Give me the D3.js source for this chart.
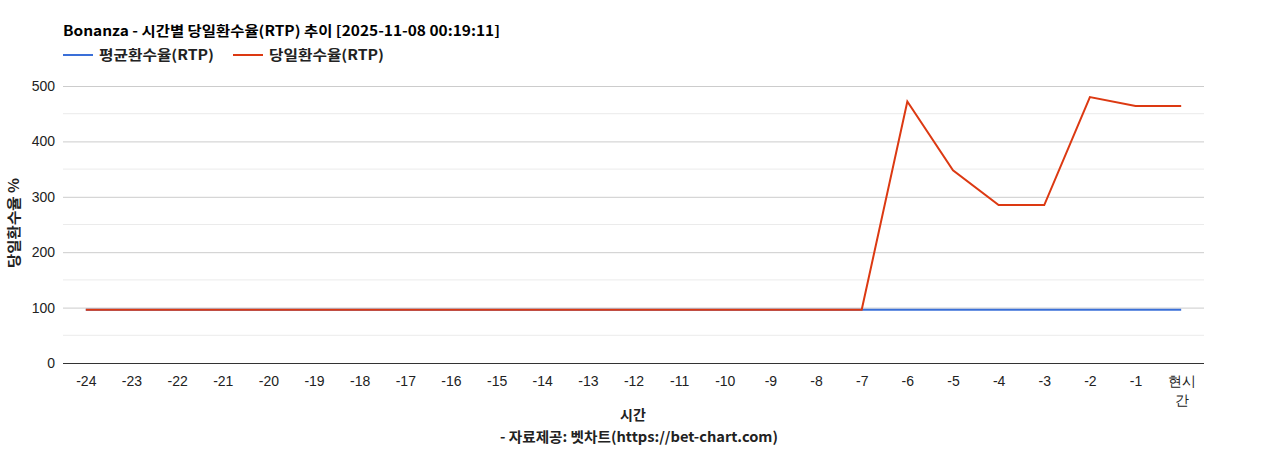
<!DOCTYPE html>
<html>
<head>
<meta charset="utf-8">
<script src="https://cdn.jsdelivr.net/npm/d3@7"></script>
<style>
  body { margin: 0; background: #fff; }
  svg { font-family: "Liberation Sans", Arial, "Noto Sans CJK KR", sans-serif; }
  .bold { font-family: "Noto Sans CJK KR", "Liberation Sans", sans-serif; font-weight: bold; }
</style>
</head>
<body>
<svg id="chart" width="1268" height="450"></svg>
<script>
// 시간 라벨 (-24 ~ 현시간)
const hours = ["-24","-23","-22","-21","-20","-19","-18","-17","-16","-15","-14","-13","-12",
  "-11","-10","-9","-8","-7","-6","-5","-4","-3","-2","-1","현시간"];

// 평균환수율 / 당일환수율 (%)
const avgRtp = [96,96,96,96,96,96,96,96,96,96,96,96,96,96,96,96,96,96,96,96,96,96,96,96,96];
const dayRtp = [96,96,96,96,96,96,96,96,96,96,96,96,96,96,96,96,96,96,472,348,285,285,480,464,464];

const yTicks = [0, 100, 200, 300, 400, 500];
const yMinor = [50, 150, 250, 350, 450];

const series = [
  { name: "평균환수율(RTP)", values: avgRtp, color: "#3a6fd8" },
  { name: "당일환수율(RTP)", values: dayRtp, color: "#dc3912" }
];

const svg = d3.select("#chart");
const margin = { top: 86, right: 64, bottom: 87, left: 63 };
const width = 1268 - margin.left - margin.right;
const height = 450 - margin.top - margin.bottom;

const x = d3.scalePoint().domain(hours).range([0, width]).padding(0.5);
const y = d3.scaleLinear().domain([0, 500]).range([height, 0]);

const g = svg.append("g").attr("transform", `translate(${margin.left},${margin.top})`);

// 보조 눈금선
g.selectAll(".minor").data(yMinor).enter().append("line")
  .attr("x1", 0).attr("x2", width)
  .attr("y1", d => y(d)).attr("y2", d => y(d))
  .attr("stroke", "#ebebeb").attr("stroke-width", 1);

// 주 눈금선 + y축 라벨
const yAxis = g.append("g")
  .call(d3.axisLeft(y).tickValues(yTicks).tickSize(-width).tickPadding(8));
yAxis.select(".domain").remove();
yAxis.selectAll(".tick line").attr("stroke", "#cccccc");
yAxis.selectAll(".tick text").attr("font-size", 14).attr("fill", "#222");
yAxis.selectAll(".tick").filter(d => d === 0).select("line").attr("stroke", "#333");

// x축
const xAxis = g.append("g")
  .attr("transform", `translate(0,${height})`)
  .call(d3.axisBottom(x).tickSize(0).tickPadding(13));
xAxis.select(".domain").remove();
xAxis.selectAll(".tick text").attr("font-size", 14).attr("fill", "#222");
xAxis.selectAll(".tick text").filter(d => d === "현시간").each(function () {
  const t = d3.select(this);
  t.text(null);
  t.append("tspan").attr("x", 0).text("현시");
  t.append("tspan").attr("x", 0).attr("dy", "1.35em").text("간");
});

// 선
const line = d3.line().x((d, i) => x(hours[i])).y(d => y(d));
series.forEach(s => {
  g.append("path")
    .datum(s.values)
    .attr("fill", "none")
    .attr("stroke", s.color)
    .attr("stroke-width", 2)
    .attr("stroke-linejoin", "miter")
    .attr("d", line);
});

// 제목
svg.append("text").attr("class", "bold")
  .attr("x", 63).attr("y", 36)
  .attr("font-size", 14).attr("fill", "#000")
  .attr("textLength", 437).attr("lengthAdjust", "spacingAndGlyphs")
  .text("Bonanza - 시간별 당일환수율(RTP) 추이 [2025-11-08 00:19:11]");

// 범례
const legendX = [63, 233];
series.forEach((s, i) => {
  const lg = svg.append("g").attr("transform", `translate(${legendX[i]},55)`);
  lg.append("line").attr("x1", 0).attr("x2", 30).attr("y1", 0).attr("y2", 0)
    .attr("stroke", s.color).attr("stroke-width", 2);
  lg.append("text").attr("class", "bold")
    .attr("x", 36).attr("y", 5)
    .attr("font-size", 14).attr("fill", "#222")
    .attr("textLength", 115).attr("lengthAdjust", "spacingAndGlyphs")
    .text(s.name);
});

// 축 제목
svg.append("text").attr("class", "bold")
  .attr("transform", "translate(19,223) rotate(-90)")
  .attr("text-anchor", "middle")
  .attr("font-size", 14).attr("fill", "#222")
  .attr("textLength", 90).attr("lengthAdjust", "spacingAndGlyphs")
  .text("당일환수율 %");

svg.append("text").attr("class", "bold")
  .attr("x", 633).attr("y", 420)
  .attr("text-anchor", "middle")
  .attr("font-size", 14).attr("fill", "#222")
  .text("시간");

svg.append("text").attr("class", "bold")
  .attr("x", 639).attr("y", 442)
  .attr("text-anchor", "middle")
  .attr("font-size", 14).attr("fill", "#222")
  .attr("textLength", 278).attr("lengthAdjust", "spacingAndGlyphs")
  .text("- 자료제공: 벳차트(https://bet-chart.com)");
</script>
</body>
</html>
